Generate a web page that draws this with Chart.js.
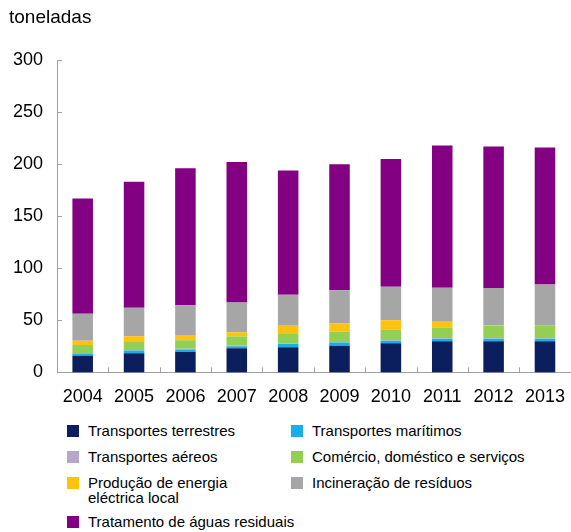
<!DOCTYPE html>
<html>
<head>
<meta charset="utf-8">
<script src="https://cdn.jsdelivr.net/npm/chart.js@4"></script>
<style>
    body { margin: 0; background: #fff; font-family: "Liberation Sans", Arial, sans-serif; }
    #wrap { position: relative; width: 571px; height: 532px; overflow: hidden; }
    #unit { position: absolute; left: 9px; top: 6px; font-size: 19px; color: #000; }
    #chart-box { position: absolute; left: 0; top: 0; width: 571px; height: 414px; }
    #legend { position: absolute; left: 0; top: 0; }
    .item { position: absolute; font-size: 15px; line-height: 15px; color: #000; white-space: nowrap; }
    .item i { position: absolute; left: -21px; top: 2px; width: 12px; height: 12px; }
</style>
</head>
<body>
<div id="wrap">
    <div id="chart-box"><canvas id="chart"></canvas></div>
    <div id="unit">toneladas</div>
    <div id="legend"></div>
</div>
<script>
const years = ['2004', '2005', '2006', '2007', '2008', '2009', '2010', '2011', '2012', '2013'];
const yTicks = [0, 50, 100, 150, 200, 250, 300];

const terrestres = [16, 18.3, 19.7, 23.1, 24.1, 25.7, 28, 29.9, 29.9, 29.9];
const maritimos = [2.2, 2.8, 2.4, 2.1, 3.4, 3.1, 2.4, 2.4, 2.4, 2.4];
const aereos = [0.5, 0.5, 0.5, 0.5, 0.5, 0.5, 0.5, 0.5, 0.5, 0.5];
const comercio = [7.7, 7.7, 8.3, 8.7, 9.6, 9.7, 10, 10.3, 12.2, 12.5];
const energia = [3.9, 5.4, 5.1, 4.2, 7.1, 8, 9.2, 5.5, 0.3, 0.2];
const incineracao = [26, 27.4, 28.6, 28.6, 29.9, 32, 32.2, 32.8, 35.7, 38.8];
const aguas = [110.7, 120.9, 131.4, 134.8, 119.4, 121, 122.7, 136.6, 136, 131.7];

const series = [
    { label: 'Transportes terrestres', data: terrestres, color: '#0b1f5e' },
    { label: 'Transportes marítimos', data: maritimos, color: '#19aee8' },
    { label: 'Transportes aéreos', data: aereos, color: '#b6a6cc' },
    { label: 'Comércio, doméstico e serviços', data: comercio, color: '#92cf52' },
    { label: 'Produção de energia\neléctrica local', data: energia, color: '#ffc20e' },
    { label: 'Incineração de resíduos', data: incineracao, color: '#a6a6a6' },
    { label: 'Tratamento de águas residuais', data: aguas, color: '#820081' }
];

// legend slots: [left, top] of the text
const legendSlots = [[88, 423], [312, 423], [88, 449], [312, 449], [88, 475], [312, 475], [88, 514]];

function buildLegend() {
    const box = document.getElementById('legend');
    series.forEach((s, i) => {
        const el = document.createElement('div');
        el.className = 'item';
        el.style.left = legendSlots[i][0] + 'px';
        el.style.top = legendSlots[i][1] + 'px';
        el.innerHTML = `<i style="background:${s.color}"></i>` + s.label.replace('\n', '<br>');
        box.appendChild(el);
    });
}

// tick marks pointing into the plot on both axes
const innerTicks = {
    id: 'innerTicks',
    afterDraw(chart) {
        const x = chart.scales.x;
        const y = chart.scales.y;
        const ctx = chart.ctx;
        ctx.save();
        ctx.strokeStyle = '#a0a0a0';
        ctx.lineWidth = 1;
        yTicks.forEach(v => {
            const py = Math.round(y.getPixelForValue(v)) + 0.5;
            ctx.beginPath();
            ctx.moveTo(y.right, py);
            ctx.lineTo(y.right + 5, py);
            ctx.stroke();
        });
        const step = x.width / years.length;
        for (let i = 1; i <= years.length; i++) {
            const px = Math.round(x.left + step * i) + 0.5;
            ctx.beginPath();
            ctx.moveTo(px, x.top);
            ctx.lineTo(px, x.top - 5);
            ctx.stroke();
        }
        ctx.restore();
    }
};

new Chart(document.getElementById('chart'), {
    type: 'bar',
    data: {
        labels: years,
        datasets: series.map(s => ({
            label: s.label,
            data: s.data,
            backgroundColor: s.color,
            borderWidth: 0,
            categoryPercentage: 1,
            barPercentage: 0.4
        }))
    },
    options: {
        responsive: true,
        maintainAspectRatio: false,
        animation: false,
        layout: { padding: { top: 60, right: 0, left: 0 } },
        plugins: {
            legend: { display: false },
            tooltip: { enabled: false }
        },
        scales: {
            x: {
                stacked: true,
                grid: { display: false },
                border: { color: '#a0a0a0' },
                ticks: { color: '#000', font: { family: 'Liberation Sans', size: 18 }, padding: 6 }
            },
            y: {
                stacked: true,
                min: 0,
                max: 300,
                afterBuildTicks: axis => { axis.ticks = yTicks.map(v => ({ value: v })); },
                afterFit: axis => { axis.width = 57; },
                grid: { display: false },
                border: { color: '#a0a0a0' },
                ticks: { color: '#000', font: { family: 'Liberation Sans', size: 18 }, padding: 6 }
            }
        }
    },
    plugins: [innerTicks]
});

buildLegend();
</script>
</body>
</html>
